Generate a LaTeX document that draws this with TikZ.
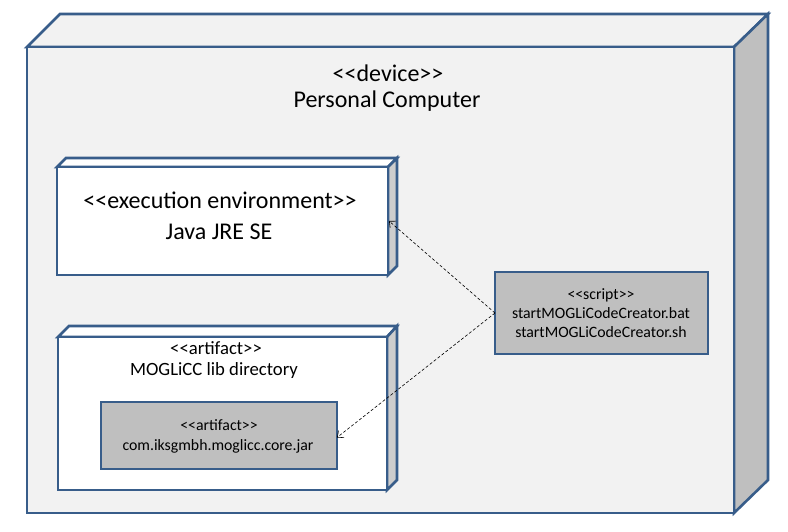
\documentclass[tikz,border=0pt]{standalone}
\usepackage{fontspec}
\setmainfont{Carlito}[Ligatures=TeXOff]
\usetikzlibrary{arrows.meta}
\definecolor{umlblue}{RGB}{56,93,138}
\definecolor{devfront}{RGB}{242,242,242}
\definecolor{devside}{RGB}{191,191,191}
\definecolor{boxside}{RGB}{205,205,205}
\definecolor{artgrey}{RGB}{191,191,191}
\tikzset{
  edge3d/.style={draw=umlblue, line width=2.6pt, line join=miter},
  facebox/.style={draw=umlblue, line width=2.6pt, inner sep=0pt, outer sep=0pt},
  lbl/.style={inner sep=0pt, text=black},
  dep/.style={draw=black, dashed, dash pattern=on 3pt off 2pt, line width=0.6pt, -{Straight Barb[length=5pt,width=9pt]}}
}
\begin{document}
\begin{tikzpicture}[x=1pt,y=-1pt]
\useasboundingbox (0,0) rectangle (788,532);
\fill[white] (0,0) rectangle (788,532);
% device node
\filldraw[edge3d, fill=devfront] (27,47) -- (60,14) -- (768,14) -- (734,47) -- cycle;
\filldraw[edge3d, fill=devside] (734,47) -- (768,14) -- (768,480) -- (734,513) -- cycle;
\node[facebox, fill=devfront, minimum width=707pt, minimum height=466pt, anchor=north west] (dev) at (27,47) {};
\node[lbl, font=\fontsize{24}{28}\selectfont] (devst) at (388,73) {<<device>>};
\node[lbl, font=\fontsize{24}{28}\selectfont] (devname) at (387,101) {Personal Computer};
% execution environment
\filldraw[edge3d, fill=white] (57,167) -- (66,158) -- (397,158) -- (388,167) -- cycle;
\filldraw[edge3d, fill=boxside] (388,167) -- (397,158) -- (397,266) -- (388,275) -- cycle;
\node[facebox, fill=white, minimum width=331pt, minimum height=108pt, anchor=north west] (jre) at (57,167) {};
\node[lbl, font=\fontsize{24}{28}\selectfont] (jrest) at (220,200) {<<execution environment>>};
\node[lbl, font=\fontsize{24}{28}\selectfont] (jrename) at (219,232) {Java JRE SE};
% artifact directory
\filldraw[edge3d, fill=white] (58,337) -- (69,326) -- (397,326) -- (387,337) -- cycle;
\filldraw[edge3d, fill=boxside] (387,337) -- (397,326) -- (397,480) -- (387,490) -- cycle;
\node[facebox, fill=white, minimum width=329pt, minimum height=153pt, anchor=north west] (libdir) at (58,337) {};
\node[lbl, font=\fontsize{18.7}{22}\selectfont] (libst) at (216,348) {<<artifact>>};
\node[lbl, font=\fontsize{18.7}{22}\selectfont] (libname) at (214,371) {MOGLiCC lib directory};
% jar artifact
\node[facebox, fill=artgrey, minimum width=236pt, minimum height=67pt, anchor=north west] (jar) at (101,402) {};
\node[lbl, font=\fontsize{15.8}{19}\selectfont] (jarst) at (219,425) {<<artifact>>};
\node[lbl, font=\fontsize{15.8}{19}\selectfont] (jarname) at (218,446) {com.iksgmbh.moglicc.core.jar};
% script
\node[facebox, fill=artgrey, minimum width=213pt, minimum height=82pt, anchor=north west] (script) at (495,272) {};
\node[lbl, font=\fontsize{15.8}{19}\selectfont] (scrst) at (601,295) {<<script>>};
\node[lbl, font=\fontsize{15.8}{19}\selectfont] (scrbat) at (601,313) {startMOGLiCodeCreator.bat};
\node[lbl, font=\fontsize{15.8}{19}\selectfont] (scrsh) at (601,332) {startMOGLiCodeCreator.sh};
% dependencies
\draw[dep] (script.west) -- ([xshift=1pt]jre.east);
\draw[dep] (script.west) -- ([yshift=-2pt]jar.east);
\end{tikzpicture}
\end{document}
